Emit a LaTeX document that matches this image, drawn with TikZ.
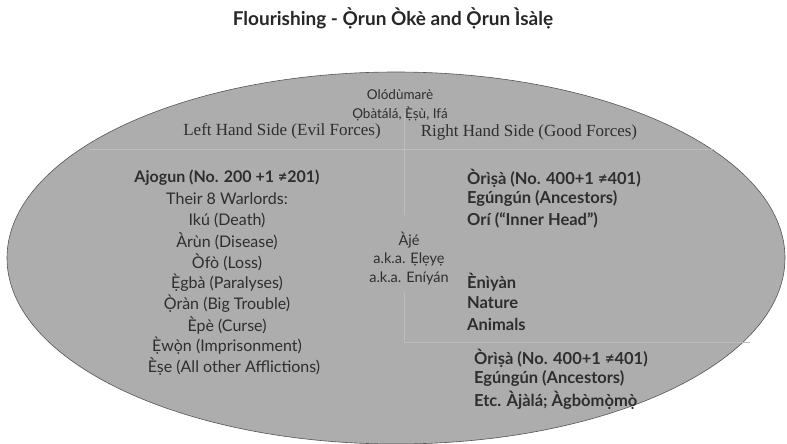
\documentclass[tikz,border=0pt]{standalone}
\usepackage{fontspec}
\setmainfont{Lato}
\newfontfamily\headserif{Liberation Serif}
\usetikzlibrary{positioning}

\definecolor{orunfill}{HTML}{ADADAD}
\definecolor{orunedge}{HTML}{555555}
\definecolor{orunrule}{HTML}{BDBDBD}
\definecolor{oruntext}{HTML}{2E2E2E}

\tikzset{
  every label text/.style={text=oruntext, inner sep=0pt, font=\fontsize{16}{18}\selectfont},
  center line/.style={every label text, anchor=center},
  small line/.style={every label text, font=\fontsize{13.5}{15}\selectfont},
  side head/.style={every label text, font=\headserif\fontsize{17}{19}\selectfont},
  force line/.style={every label text, anchor=west, font=\bfseries\fontsize{16.5}{18}\selectfont},
  aje line/.style={every label text, font=\fontsize{14.5}{16}\selectfont},
  table rule/.style={draw=orunrule, line width=0.8pt}
}

\begin{document}
\begin{tikzpicture}[x=1pt, y=-1pt]

\useasboundingbox (0,0) rectangle (787,444);

% the ellipse
\fill [orunfill, draw=orunedge, line width=0.6pt] (396,258) ellipse [x radius=389, y radius=186];

% faint table borders
\draw [table rule] (89,149) -- (714,149);
\draw [table rule] (404,113) -- (404,215);
\draw [table rule] (404,293) -- (404,341);
\draw [table rule] (404,342) -- (750,342);

\node [every label text, font=\bfseries\fontsize{19}{22}\selectfont, text=black!85] (title) at (393,18)
  {Flourishing - Ọ̀run Òkè and Ọ̀run Ìsàlẹ};

\node [small line] (olodumare) at (400,95) {Olódùmarè};
\node [small line] (obatala) at (400,114) {Ọbàtálá, Ẹ̀ṣù, Ifá};

\node [side head] (left-head) at (282,131) {Left Hand Side (Evil Forces)};
\node [side head] (right-head) at (529,132) {Right Hand Side (Good Forces)};

\node [center line, font=\bfseries\fontsize{16}{18}\selectfont] (ajogun) at (227,178)
  {Ajogun (No. 200 +1 ≠201)};

\foreach \m/\dx [count=\y] in {Their 8 Warlords:/0, Ikú (Death)/0, Àrùn (Disease)/0,
    Òfò (Loss)/0, Ẹ̀gbà (Paralyses)/0, Ọ̀ràn (Big Trouble)/0, Èpè (Curse)/0,
    Ẹ̀wọ̀n (Imprisonment)/0, Èṣe (All other Afflictions)/7}
  \node [center line] (warlord-\y) at (227+\dx,178+\y*21) {\m};

\foreach \m [count=\y] in {Àjé, a.k.a. Ẹlẹyẹ, a.k.a. Eníyán}
  \node [aje line] (aje-\y) at (409,221+\y*19) {\m};

\foreach \m [count=\y] in {Òrìṣà (No. 400+1 ≠401), Egúngún (Ancestors), Orí (“Inner Head”)}
  \node [force line] (orisa-\y) at (467,157+\y*21) {\m};

\foreach \m [count=\y] in {Ènìyàn, Nature, Animals}
  \node [force line] (eniyan-\y) at (467,261+\y*21) {\m};

\foreach \m [count=\y] in {Òrìṣà (No. 400+1 ≠401), Egúngún (Ancestors), Etc. Àjàlá; Àgbòmọ̀mọ̀}
  \node [force line] (isale-\y) at (474,337+\y*21) {\m};

\end{tikzpicture}
\end{document}
